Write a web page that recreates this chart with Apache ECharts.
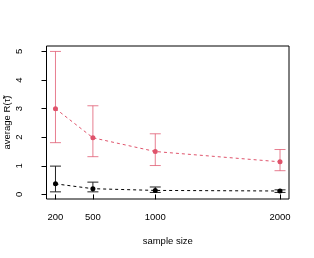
<!DOCTYPE html>
<html><head><meta charset="utf-8">
<script src="https://cdn.jsdelivr.net/npm/echarts@6/dist/echarts.min.js"></script>
<style>html,body{margin:0;padding:0;background:#fff}#c{width:314px;height:258px}</style>
</head><body><div id="c"></div>
<script>
const sampleSizes = [200, 500, 1000, 2000];
const redMean = [3.0, 1.98, 1.5, 1.14];
const redLow = [1.81, 1.32, 1.01, 0.83];
const redHigh = [5.0, 3.1, 2.12, 1.57];
const blackMean = [0.37, 0.2, 0.14, 0.12];
const blackLow = [0.09, 0.09, 0.07, 0.07];
const blackHigh = [0.99, 0.43, 0.26, 0.16];
const yTicks = [0, 1, 2, 3, 4, 5];

const RED = '#DF536B';
const FONT = 'Liberation Sans';

function errSeries(low, high, color) {
  return {
    type: 'custom',
    data: sampleSizes.map((x, i) => [x, low[i], high[i]]),
    renderItem: function (params, api) {
      const x = api.value(0);
      const p1 = api.coord([x, api.value(1)]);
      const p2 = api.coord([x, api.value(2)]);
      const w = 5.5;
      const st = {stroke: color, lineWidth: 1, fill: null};
      return {type: 'group', children: [
        {type: 'line', shape: {x1: p1[0], y1: p1[1], x2: p2[0], y2: p2[1]}, style: st},
        {type: 'line', shape: {x1: p1[0]-w, y1: p1[1], x2: p1[0]+w, y2: p1[1]}, style: st},
        {type: 'line', shape: {x1: p2[0]-w, y1: p2[1], x2: p2[0]+w, y2: p2[1]}, style: st}
      ]};
    },
    z: 2
  };
}
function lineSeries(mean, color) {
  return {
    type: 'line',
    data: sampleSizes.map((x, i) => [x, mean[i]]),
    symbol: 'circle', symbolSize: 5,
    itemStyle: {color: color},
    lineStyle: {color: color, width: 1, type: [3, 3]},
    z: 3
  };
}

const chart = echarts.init(document.getElementById('c'));
chart.setOption({
  animation: false,
  grid: {left: 46.5, right: 25, top: 46, bottom: 59, show: true, borderColor: '#000', borderWidth: 1,
    containLabel: false, outerBoundsMode: 'none'},
  xAxis: {
    type: 'value', min: 128, max: 2072,
    name: 'sample size', nameLocation: 'middle', nameGap: 37,
    nameTextStyle: {fontFamily: FONT, fontSize: 9.5, color: '#000'},
    axisLine: {show: false},
    splitLine: {show: false},
    axisTick: {show: true, length: 5, lineStyle: {color: '#000'}, customValues: sampleSizes},
    axisLabel: {fontFamily: FONT, fontSize: 9.5, color: '#000', margin: 13, customValues: sampleSizes,
      formatter: v => String(v)}
  },
  yAxis: {
    type: 'value', min: -0.16, max: 5.19,
    name: 'average R(τ\u0303)', nameLocation: 'middle', nameGap: 34, nameMoveOverlap: false,
    nameTextStyle: {fontFamily: FONT, fontSize: 9.5, color: '#000'},
    axisLine: {show: false},
    splitLine: {show: false},
    axisTick: {show: true, length: 5, lineStyle: {color: '#000'}, customValues: yTicks},
    axisLabel: {fontFamily: FONT, fontSize: 9.5, color: '#000', rotate: 90, margin: 22, customValues: yTicks,
      formatter: v => String(v)}
  },
  series: [
    errSeries(redLow, redHigh, 'rgba(223,83,107,0.75)'),
    lineSeries(redMean, RED),
    errSeries(blackLow, blackHigh, '#222'),
    lineSeries(blackMean, '#000')
  ]
});
</script></body></html>
